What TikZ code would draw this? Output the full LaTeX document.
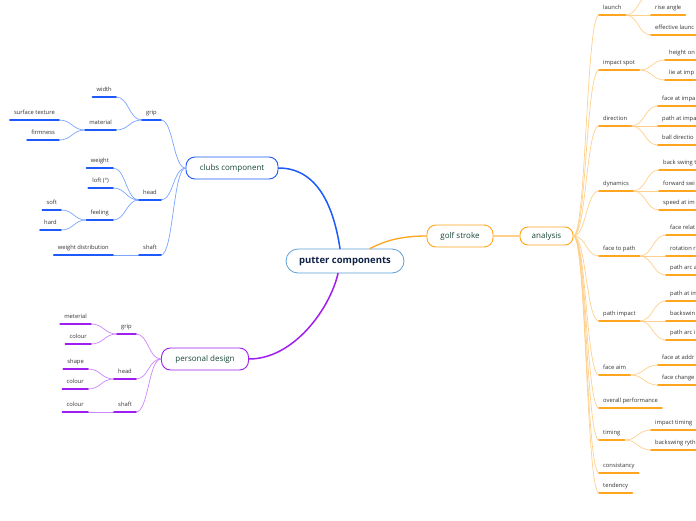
\documentclass[tikz,border=0pt]{standalone}
\usepackage{fontspec}
\setmainfont{Open Sans}
\usetikzlibrary{calc}
\definecolor{bluebr}{RGB}{30,90,250}
\definecolor{bluelt}{RGB}{125,165,255}
\definecolor{purplebr}{RGB}{160,30,240}
\definecolor{purplelt}{RGB}{205,135,255}
\definecolor{orangebr}{RGB}{255,165,30}
\definecolor{orangelt}{RGB}{255,208,140}
\definecolor{rootline}{RGB}{95,160,215}
\definecolor{leaftext}{RGB}{50,50,50}
\definecolor{maintext}{RGB}{25,70,55}
\definecolor{roottext}{RGB}{15,35,70}
\tikzset{
  leaf/.style={font=\fontsize{5.8}{6}\selectfont, text=leaftext, inner xsep=4pt, inner ysep=0pt, text height=4pt, text depth=5.3pt},
  leafR/.style={leaf, anchor=south west},
  leafL/.style={leaf, anchor=south east},
  topic/.style={draw, rounded corners=9pt, line width=0.9pt, fill=white, text=maintext, font=\fontsize{8}{9}\selectfont, inner sep=0pt, minimum height=22pt},
  sub/.style={line width=0.7pt},
  uline/.style={line width=1.6pt},
  fan/.style={to path={.. controls ($(\tikztostart -| \tikztotarget)!0.5!(\tikztostart)$) and ($(\tikztotarget -| \tikztostart)!0.5!(\tikztotarget)$) .. (\tikztotarget)}},
}
\begin{document}
\begin{tikzpicture}[x=1pt, y=-1pt, line cap=round, line join=round]
  \useasboundingbox (0,0) rectangle (696,520);
  \fill[white] (0,0) rectangle (696,520);
  \clip (0,0) rectangle (696,520);
  \coordinate (redge) at (700,0);
  % main topics
  \node[draw=rootline, rounded corners=12pt, line width=0.8pt, minimum width=118pt, minimum height=24pt, inner sep=0pt, text=roottext, font=\fontsize{9.5}{10}\selectfont\bfseries] (putter) at (345,261) {putter components};
  \node[topic, draw=bluebr, minimum width=92pt] (clubs) at (232,168) {clubs component};
  \node[topic, draw=purplebr, minimum width=87pt] (personal) at (205,359) {personal design};
  \node[topic, draw=orangebr, minimum width=66pt] (golf) at (460,236) {golf stroke};
  \node[topic, draw=orangebr, rounded corners=8pt, minimum width=53pt, minimum height=18pt] (analysis) at (546.5,236) {analysis};
  \draw[bluebr, line width=1.5pt] (clubs.east) .. controls +(40,0) and +(-6,-40) .. ([xshift=-5pt]putter.north);
  \draw[purplebr, line width=1.5pt] (personal.east) .. controls +(45,0) and +(-8,35) .. ([xshift=-7pt]putter.south);
  \draw[orangebr, line width=1.3pt] ([xshift=25pt]putter.north) .. controls +(15,-8) and +(-25,0) .. (golf.west);
  \draw[orangelt, line width=1.2pt] (golf.east) -- (analysis.west);
  % clubs component
  \foreach \n/\x/\y/\t in {cgrip/161/120/grip, chead/161/200/head, cshaft/161/255/shaft,
      cwidth/116/97/width, cmat/116/130/material, csurf/59/120/surface texture, cfirm/59/140/firmness,
      cweight/113/168/weight, cloft/113/188/loft (°), cfeel/113/220/feeling, csoft/61/210/soft, chard/61/230/hard,
      cwdist/113/255/weight distribution}
    \node[leafL] (\n) at (\x,\y) {\t};
  \foreach \c in {cgrip, chead, cshaft}
    \draw[bluelt, sub, fan] (\c.south east) to (clubs.west);
  \foreach \c/\p in {cwidth/cgrip, cmat/cgrip, csurf/cmat, cfirm/cmat, cweight/chead, cloft/chead, cfeel/chead,
      csoft/cfeel, chard/cfeel, cwdist/cshaft}
    \draw[bluelt, sub, fan] (\c.south east) to (\p.south west);
  \foreach \n in {cgrip, chead, cshaft, cwidth, cmat, csurf, cfirm, cweight, cloft, cfeel, csoft, chard, cwdist}
    \draw[bluebr, uline] (\n.south west) -- (\n.south east);
  % personal design
  \foreach \n/\x/\y/\t in {pgrip/136/334/grip, phead/136/379/head, pshaft/136/412/shaft,
      pmat/91/324/meterial, pcola/91/344/colour, pshape/88/369/shape, pcolb/88/389/colour, pcolc/88/412/colour}
    \node[leafL] (\n) at (\x,\y) {\t};
  \foreach \c in {pgrip, phead, pshaft}
    \draw[purplelt, sub, fan] (\c.south east) to (personal.west);
  \foreach \c/\p in {pmat/pgrip, pcola/pgrip, pshape/phead, pcolb/phead, pcolc/pshaft}
    \draw[purplelt, sub, fan] (\c.south east) to (\p.south west);
  \foreach \n in {pgrip, phead, pshaft, pmat, pcola, pshape, pcolb, pcolc}
    \draw[purplebr, uline] (\n.south west) -- (\n.south east);
  % analysis
  \foreach \n/\y/\t in {alaunch/15/launch, aspot/70/impact spot, adir/126/direction, adyn/191/dynamics,
      aftp/256/face to path, apath/321/path impact, aaim/375/face aim, aover/408/overall performance,
      atime/440/timing, acons/473/consistancy, atend/493/tendency}
    \node[leafR] (\n) at (599,\y) {\t};
  \foreach \n/\x/\y/\t in {arise/651/15/rise angle, aeff/651/35/effective launc,
      aheight/665/60/height on, alie/665/80/lie at imp,
      afimp/658/106/face at impa, apimp/658/126/path at impa, aball/658/145/ball directio,
      aback/659/170/back swing t, afwd/659/191/forward swi, aspeed/659/210/speed at im,
      arel/666/235/face relat, arot/666/256/rotation r, aarc/666/275/path arc a,
      apat/666/301/path at im, absw/666/321/backswin, aarcin/666/340/path arc i,
      aaddr/658/365/face at addr, achg/658/385/face change,
      aimpt/651/430/impact timing, arhy/651/450/backswing ryth}
    \node[leafR] (\n) at (\x,\y) {\t};
  \coordinate (atop) at (651,-5);
  \foreach \c in {alaunch, aspot, adir, adyn, aftp, apath, aaim, aover, atime, acons, atend}
    \draw[orangelt, sub, fan] (analysis.east) to (\c.south west);
  \draw[orangelt, sub, fan] (alaunch.south east) to (atop);
  \foreach \c/\p in {arise/alaunch, aeff/alaunch, aheight/aspot, alie/aspot, afimp/adir, apimp/adir, aball/adir,
      aback/adyn, afwd/adyn, aspeed/adyn, arel/aftp, arot/aftp, aarc/aftp, apat/apath, absw/apath, aarcin/apath,
      aaddr/aaim, achg/aaim, aimpt/atime, arhy/atime}
    \draw[orangelt, sub, fan] (\p.south east) to (\c.south west);
  \foreach \n in {alaunch, aspot, adir, adyn, aftp, apath, aaim, aover, atime, acons, atend, arise}
    \draw[orangebr, uline] (\n.south west) -- (\n.south east);
  % underlines running past the right edge
  \foreach \n in {aeff, aheight, alie, afimp, apimp, aball, aback, afwd, aspeed, arel, arot, aarc,
      apat, absw, aarcin, aaddr, achg, aimpt, arhy}
    \draw[orangebr, uline] (\n.south west) -- (\n.south west -| redge);
\end{tikzpicture}
\end{document}
